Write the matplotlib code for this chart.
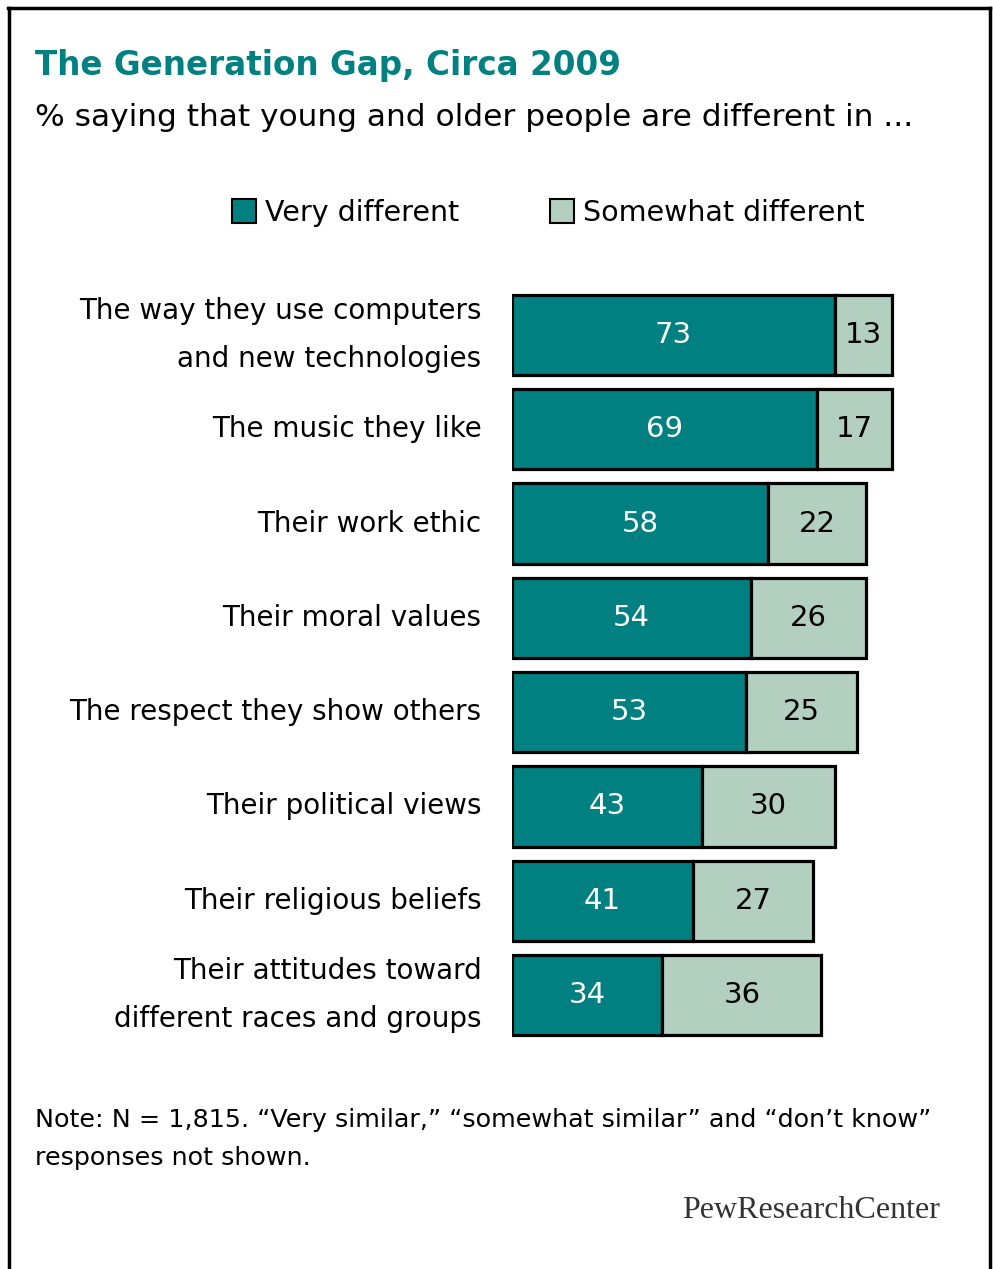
import matplotlib.pyplot as plt
from matplotlib.lines import Line2D
from matplotlib.patches import Patch

categories = ["The way they use computers\nand new technologies",
              "The music they like",
              "Their work ethic",
              "Their moral values",
              "The respect they show others",
              "Their political views",
              "Their religious beliefs",
              "Their attitudes toward\ndifferent races and groups"]
very = [73, 69, 58, 54, 53, 43, 41, 34]
somewhat = [13, 17, 22, 26, 25, 30, 27, 36]

teal = '#008080'
light = '#b3cfc0'

W, H = 993, 1269
fig = plt.figure(figsize=(W / 100, H / 100), dpi=100)
fig.patch.set_facecolor('white')

# frame around the graphic
fig.add_artist(Line2D([8 / W, 990 / W], [1 - 8 / H, 1 - 8 / H], color='black', lw=2.5))
fig.add_artist(Line2D([9 / W, 9 / W], [0, 1 - 8 / H], color='black', lw=2.5))
fig.add_artist(Line2D([990 / W, 990 / W], [0, 1 - 8 / H], color='black', lw=2.5))

fig.text(35 / W, 1 - 66 / H, "The Generation Gap, Circa 2009", color=teal,
         fontsize=23.5, fontweight='bold', va='center', ha='left')
fig.text(35 / W, 1 - 117 / H, "% saying that young and older people are different in ...",
         color='black', fontsize=22.5, va='center', ha='left')

# bars
ax = fig.add_axes([512 / W, 1 - 1050 / H, 442 / W, 770 / H])
ys = list(range(len(categories)))
ax.barh(ys, very, height=0.85, color=teal, edgecolor='black', linewidth=2.3)
ax.barh(ys, somewhat, left=very, height=0.85, color=light, edgecolor='black', linewidth=2.3)
for y, v, s in zip(ys, very, somewhat):
    ax.text(v / 2, y, str(v), color='white', fontsize=21, ha='center', va='center')
    ax.text(v + s / 2, y, str(s), color='black', fontsize=21, ha='center', va='center')
ax.set_xlim(0, 100)
ax.set_ylim(7.583, -0.583)
ax.set_yticks(ys)
ax.set_yticklabels(categories, fontsize=20, linespacing=1.95, va='center')
ax.tick_params(axis='y', length=0, pad=22)
ax.set_xticks([])
for sp in ax.spines.values():
    sp.set_visible(False)

handles = [Patch(facecolor=teal, edgecolor='black', linewidth=1.5),
           Patch(facecolor=light, edgecolor='black', linewidth=1.5)]
fig.legend(handles, ["Very different", "Somewhat different"], loc='center',
           bbox_to_anchor=(548 / W, 1 - 213 / H), ncol=2, frameon=False,
           fontsize=20.5, handlelength=0.85, handleheight=0.9, handletextpad=0.3,
           columnspacing=3.2)

fig.text(35 / W, 1 - 1120 / H,
         "Note: N = 1,815. \u201cVery similar,\u201d \u201csomewhat similar\u201d and \u201cdon\u2019t know\u201d",
         fontsize=18.3, va='center', ha='left')
fig.text(35 / W, 1 - 1158 / H, "responses not shown.", fontsize=18.3, va='center', ha='left')

fig.text(940 / W, 1 - 1210 / H, "PewResearchCenter", family='Liberation Serif',
         fontsize=23, color='#333333', ha='right', va='center')

fig.savefig('out.png', dpi=100)
